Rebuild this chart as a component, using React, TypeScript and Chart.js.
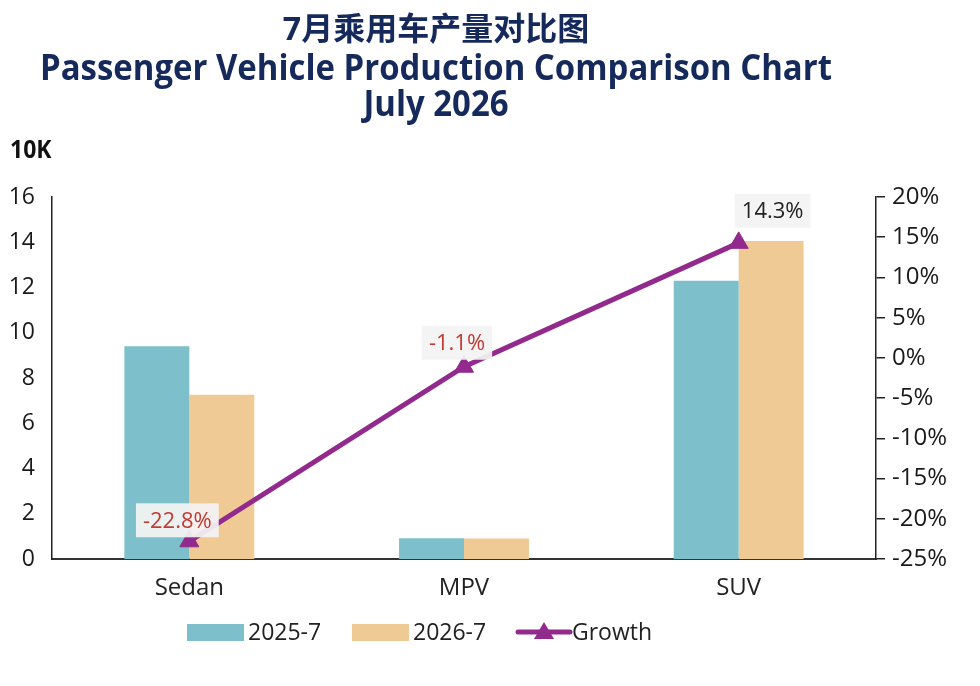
import { useEffect, useRef } from "react";
import { Chart, registerables } from "chart.js";

Chart.register(...registerables);

const categories = ["Sedan", "MPV", "SUV"];
const prod2025 = [9.4, 0.92, 12.3];
const prod2026 = [7.26, 0.91, 14.06];
const growth = [-22.8, -1.1, 14.3];
const seriesNames = ["2025-7", "2026-7", "Growth"];

const titleCn = "7月乘用车产量对比图";
const titleEn = "Passenger Vehicle Production Comparison Chart";
const titleDate = "July 2026";
const unitLabel = "10K";

const BLUE = "#7dbfcb";
const ORANGE = "#efca95";
const PURPLE = "#922a8e";
const NAVY = "#16295b";
const FONT = "'Open Sans', 'Noto Sans CJK SC', sans-serif";

export default function App() {
  const ref = useRef<HTMLCanvasElement | null>(null);

  useEffect(() => {
    if (!ref.current) return;

    // 제목 + 단위 + 범례 직접 그리기
    const decor = {
      id: "decor",
      afterDraw: (c: Chart) => {
        const ctx = c.ctx;
        ctx.save();
        ctx.textAlign = "center";
        ctx.textBaseline = "middle";
        ctx.fillStyle = NAVY;
        ctx.font = `bold 32px ${FONT}`;
        ctx.fillText(titleCn, 436, 31);
        ctx.font = `bold 35px ${FONT}`;
        const w = ctx.measureText(titleEn).width;
        const sx = Math.min(1, 792 / w);
        ctx.save();
        ctx.translate(436, 70);
        ctx.scale(sx, 1);
        ctx.fillText(titleEn, 0, 0);
        ctx.restore();
        ctx.save();
        ctx.translate(436, 106);
        ctx.scale(sx, 1);
        ctx.fillText(titleDate, 0, 0);
        ctx.restore();

        ctx.textAlign = "left";
        ctx.fillStyle = "#111";
        ctx.font = `bold 25px ${FONT}`;
        ctx.save();
        ctx.translate(10, 151);
        ctx.scale(0.92, 1);
        ctx.fillText(unitLabel, 0, 0);
        ctx.restore();

        // legend
        ctx.font = `23px ${FONT}`;
        const y = 632;
        const items = [
          { x: 187, color: BLUE, kind: "box" },
          { x: 352, color: ORANGE, kind: "box" },
          { x: 518, color: PURPLE, kind: "line" },
        ];
        items.forEach((it, i) => {
          if (it.kind === "box") {
            ctx.fillStyle = it.color;
            ctx.fillRect(it.x, y - 8, 57, 17);
          } else {
            ctx.strokeStyle = it.color;
            ctx.lineWidth = 5;
            ctx.lineCap = "round";
            ctx.beginPath();
            ctx.moveTo(it.x, y);
            ctx.lineTo(it.x + 52, y);
            ctx.stroke();
            ctx.fillStyle = it.color;
            ctx.beginPath();
            ctx.moveTo(it.x + 26, y - 10);
            ctx.lineTo(it.x + 36, y + 7);
            ctx.lineTo(it.x + 16, y + 7);
            ctx.closePath();
            ctx.fill();
          }
          ctx.fillStyle = "#222";
          ctx.fillText(seriesNames[i], it.x + (it.kind === "box" ? 61 : 54), y + 1);
        });
        ctx.restore();
      },
    };

    // 성장률 라벨 박스
    const growthLabels = {
      id: "growth-labels",
      afterDatasetsDraw: (c: Chart) => {
        const ctx = c.ctx;
        const meta = c.getDatasetMeta(2);
        const dx = [-12, -7, 34];
        const dy = [-21, -24, -32];
        ctx.save();
        ctx.font = `22px ${FONT}`;
        ctx.textAlign = "center";
        ctx.textBaseline = "middle";
        meta.data.forEach((pt: any, i: number) => {
          const v = growth[i];
          const txt = `${v.toFixed(1)}%`;
          const cx = pt.x + dx[i];
          const cy = pt.y + dy[i];
          const tw = ctx.measureText(txt).width + 14;
          ctx.fillStyle = "rgba(243, 243, 243, 0.93)";
          ctx.fillRect(cx - tw / 2, cy - 17, tw, 34);
          ctx.fillStyle = v < 0 ? "#c23a34" : "#222";
          ctx.fillText(txt, cx, cy + 1);
        });
        ctx.restore();
      },
    };

    const chart = new Chart(ref.current, {
      type: "bar",
      data: {
        labels: categories,
        datasets: [
          {
            type: "bar",
            label: seriesNames[0],
            data: prod2025,
            backgroundColor: BLUE,
            categoryPercentage: 0.473,
            barPercentage: 1,
            yAxisID: "y",
            order: 2,
          },
          {
            type: "bar",
            label: seriesNames[1],
            data: prod2026,
            backgroundColor: ORANGE,
            categoryPercentage: 0.473,
            barPercentage: 1,
            yAxisID: "y",
            order: 2,
          },
          {
            type: "line",
            label: seriesNames[2],
            data: growth,
            borderColor: PURPLE,
            backgroundColor: PURPLE,
            borderWidth: 5,
            pointStyle: "triangle",
            pointRadius: 11,
            pointBorderWidth: 1,
            pointBorderColor: PURPLE,
            pointBackgroundColor: PURPLE,
            tension: 0,
            yAxisID: "y1",
            order: 0,
          } as any,
        ],
      },
      options: {
        responsive: true,
        maintainAspectRatio: false,
        animation: false,
        layout: { padding: { top: 197, bottom: 77, left: 0, right: 0 } },
        plugins: { legend: { display: false }, tooltip: { enabled: false }, title: { display: false } },
        scales: {
          x: {
            offset: true,
            grid: { display: false, drawTicks: false },
            border: { display: true, color: "#333", width: 2 },
            ticks: { color: "#222", font: { family: FONT, size: 24 }, padding: 15 },
            afterFit: (s: any) => {
              s.height = 50;
            },
          },
          y: {
            position: "left",
            min: 0,
            max: 16,
            grid: { display: false, drawTicks: false },
            border: { display: true, color: "#222", width: 1.5 },
            ticks: { stepSize: 2, color: "#1a1a1a", font: { family: FONT, size: 23 }, padding: 17 },
            afterFit: (s: any) => {
              s.width = 52;
            },
          },
          y1: {
            position: "right",
            min: -25,
            max: 20,
            grid: { display: true, drawOnChartArea: false, drawTicks: true, tickLength: 9, color: "#222", lineWidth: 1.5 },
            border: { display: true, color: "#222", width: 1.5 },
            ticks: {
              stepSize: 5,
              color: "#1a1a1a",
              font: { family: FONT, size: 24 },
              padding: 7,
              callback: (v: any) => `${v}%`,
            },
            afterFit: (s: any) => {
              s.width = 104;
            },
          },
        },
      },
      plugins: [growthLabels, decor],
    });

    return () => chart.destroy();
  }, []);

  return (
    <div style={{ position: "absolute", left: 0, top: 0, width: 980, height: 686, background: "#fff" }}>
      <canvas ref={ref} />
    </div>
  );
}
